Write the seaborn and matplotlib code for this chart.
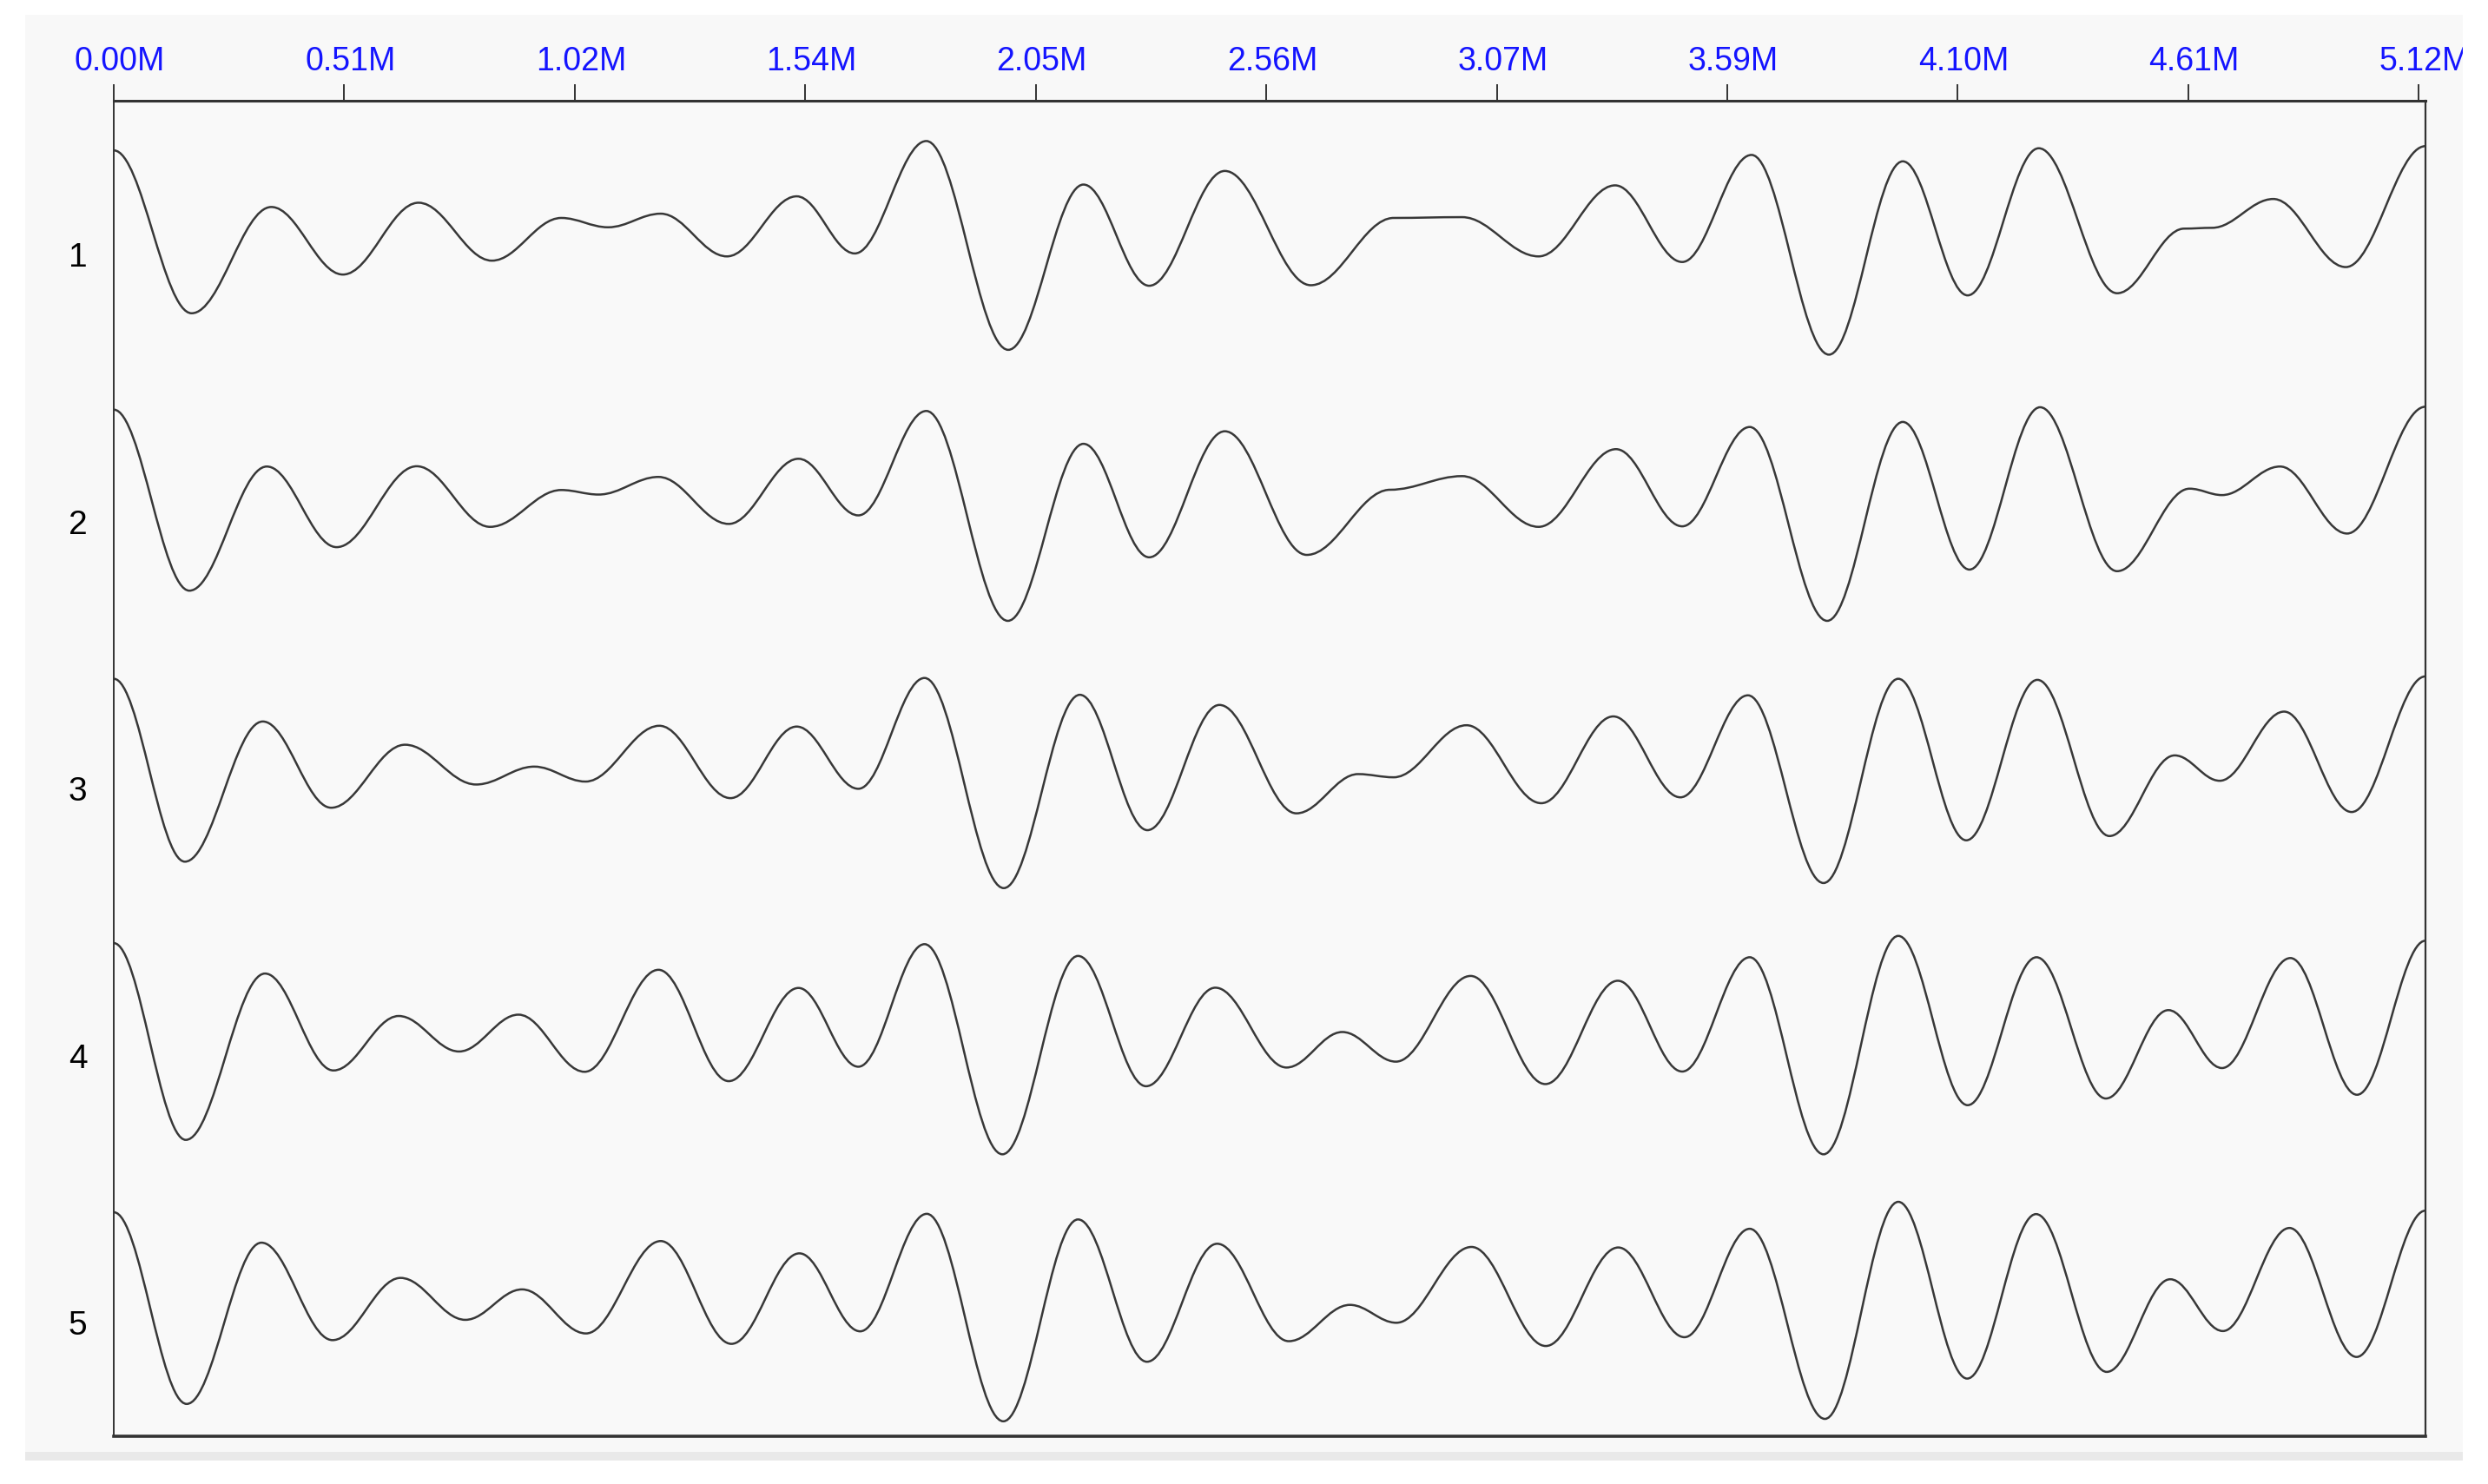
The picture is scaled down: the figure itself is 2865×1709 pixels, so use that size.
import matplotlib
matplotlib.use("Agg")
import matplotlib.pyplot as plt
import matplotlib.transforms as mtransforms
from matplotlib.path import Path
from matplotlib.patches import PathPatch, Rectangle
import seaborn as sns

# picos y valles de cada traza: posicion (M) y amplitud (en separaciones de traza, + = arriba)
trace1_x = [0.000, 0.173, 0.350, 0.509, 0.677, 0.840, 0.994, 1.098, 1.215, 1.362, 1.517, 1.646,
            1.805, 1.987, 2.154, 2.300, 2.468, 2.659, 2.843, 2.995, 3.165, 3.335, 3.484, 3.638,
            3.810, 3.974, 4.118, 4.276, 4.450, 4.599, 4.661, 4.797, 4.958, 5.135]
trace1_amp = [0.390, -0.220, 0.178, -0.075, 0.194, -0.023, 0.137, 0.102, 0.153, -0.007, 0.218, 0.004,
              0.425, -0.357, 0.262, -0.117, 0.313, -0.115, 0.137, 0.140, -0.007, 0.259, -0.028, 0.373,
              -0.375, 0.349, -0.153, 0.398, -0.145, 0.097, 0.100, 0.208, -0.047, 0.406]

trace2_x = [0.000, 0.168, 0.340, 0.495, 0.673, 0.836, 0.994, 1.077, 1.210, 1.366, 1.521, 1.654,
            1.805, 1.986, 2.154, 2.300, 2.468, 2.650, 2.835, 2.995, 3.165, 3.337, 3.484, 3.634,
            3.806, 3.974, 4.122, 4.279, 4.450, 4.611, 4.683, 4.812, 4.961, 5.135]
trace2_amp = [0.419, -0.259, 0.206, -0.096, 0.207, -0.020, 0.118, 0.101, 0.167, -0.009, 0.235, 0.023,
              0.414, -0.372, 0.291, -0.134, 0.338, -0.125, 0.119, 0.170, -0.020, 0.271, -0.018, 0.354,
              -0.372, 0.373, -0.180, 0.428, -0.186, 0.123, 0.099, 0.206, -0.045, 0.430]

trace3_x = [0.000, 0.158, 0.331, 0.483, 0.647, 0.805, 0.934, 1.048, 1.212, 1.370, 1.517, 1.654,
            1.801, 1.977, 2.146, 2.296, 2.456, 2.627, 2.764, 2.843, 3.005, 3.171, 3.331, 3.480,
            3.630, 3.798, 3.964, 4.115, 4.273, 4.433, 4.578, 4.678, 4.821, 4.971, 5.135]
trace3_amp = [0.411, -0.274, 0.251, -0.072, 0.164, 0.015, 0.082, 0.026, 0.235, -0.036, 0.232, -0.001,
              0.414, -0.373, 0.351, -0.156, 0.313, -0.093, 0.054, 0.042, 0.237, -0.055, 0.270, -0.033,
              0.349, -0.354, 0.411, -0.194, 0.407, -0.178, 0.124, 0.029, 0.288, -0.088, 0.420]

trace4_x = [0.000, 0.160, 0.336, 0.488, 0.633, 0.767, 0.899, 1.046, 1.210, 1.366, 1.521, 1.654,
            1.801, 1.974, 2.142, 2.293, 2.447, 2.605, 2.729, 2.848, 3.014, 3.180, 3.341, 3.484,
            3.634, 3.798, 3.964, 4.118, 4.271, 4.425, 4.564, 4.683, 4.835, 4.983, 5.135]
trace4_amp = [0.421, -0.316, 0.307, -0.056, 0.148, 0.015, 0.153, -0.061, 0.321, -0.096, 0.253, -0.042,
              0.417, -0.370, 0.373, -0.115, 0.254, -0.045, 0.088, -0.023, 0.298, -0.107, 0.280, -0.060,
              0.368, -0.370, 0.448, -0.186, 0.368, -0.161, 0.170, -0.047, 0.365, -0.147, 0.430]

trace5_x = [0.000, 0.162, 0.328, 0.486, 0.637, 0.781, 0.907, 1.049, 1.215, 1.372, 1.523, 1.658,
            1.806, 1.976, 2.142, 2.295, 2.451, 2.610, 2.746, 2.849, 3.016, 3.181, 3.342, 3.489,
            3.634, 3.801, 3.964, 4.117, 4.270, 4.427, 4.568, 4.685, 4.833, 4.982, 5.135]
trace5_amp = [0.413, -0.305, 0.299, -0.066, 0.167, 0.010, 0.124, -0.041, 0.305, -0.080, 0.259, -0.033,
              0.407, -0.370, 0.386, -0.147, 0.295, -0.070, 0.066, -0.001, 0.283, -0.088, 0.281, -0.055,
              0.351, -0.361, 0.452, -0.210, 0.406, -0.185, 0.162, -0.032, 0.354, -0.129, 0.419]

trace_labels = ["1", "2", "3", "4", "5"]
tick_pos = [0.0, 0.512, 1.024, 1.536, 2.048, 2.56, 3.072, 3.584, 4.096, 4.608, 5.12]
tick_labels = ["0.00M", "0.51M", "1.02M", "1.54M", "2.05M", "2.56M",
               "3.07M", "3.59M", "4.10M", "4.61M", "5.12M"]

traces = [(trace1_x, trace1_amp), (trace2_x, trace2_amp), (trace3_x, trace3_amp),
          (trace4_x, trace4_amp), (trace5_x, trace5_amp)]


def wiggle_path(xs, ys, k=0.364):
    # curvas de Bezier entre extremos con tangente horizontal en cada extremo
    verts = [(xs[0], ys[0])]
    codes = [Path.MOVETO]
    for x0, y0, x1, y1 in zip(xs[:-1], ys[:-1], xs[1:], ys[1:]):
        dx = x1 - x0
        verts += [(x0 + k * dx, y0), (x1 - k * dx, y1), (x1, y1)]
        codes += [Path.CURVE4] * 3
    return Path(verts, codes)


sns.set_style("white")
plt.rcParams['font.family'] = ['Liberation Sans', 'DejaVu Sans']

W, H = 2865, 1709
fig = plt.figure(figsize=(W / 100, H / 100), dpi=100, facecolor='white')

# panel gris de la ventana
fig.add_artist(Rectangle((29 / W, 1 - 1672 / H), (2836 - 29) / W, (1672 - 17) / H,
                         transform=fig.transFigure, facecolor='#f8f8f8', edgecolor='none', zorder=-2))
fig.add_artist(Rectangle((29 / W, 1 - 1682 / H), (2836 - 29) / W, 10 / H,
                         transform=fig.transFigure, facecolor='#e9e9e9', edgecolor='none', zorder=-2))

ax = fig.add_axes([131 / W, 55 / H, (2793 - 131) / W, (1654 - 116) / H])
ax.set_facecolor('#f9f9f9')

for i, (xs, amps) in enumerate(traces):
    ys = [(i + 1) - a for a in amps]
    ax.add_patch(PathPatch(wiggle_path(xs, ys), facecolor='none',
                           edgecolor='#383838', linewidth=1.8))

ax.set_xlim(0, 5.135)
ax.set_ylim(5.426, 0.424)

ax.set_yticks(range(1, len(trace_labels) + 1))
ax.set_yticklabels(trace_labels)
ax.set_xticks(tick_pos)
ax.set_xticklabels(tick_labels)
ax.xaxis.tick_top()

ax.tick_params(axis='x', top=True, bottom=False, direction='out', length=13.5, width=1.4,
               color='#333333', labelsize=27, labelcolor='#1414ff', pad=6)
ax.tick_params(axis='y', left=False, length=0, pad=22, labelsize=28, labelcolor='black')

offset = mtransforms.ScaledTranslation(7 / 100, 0, fig.dpi_scale_trans)
for lab in ax.get_xticklabels():
    lab.set_transform(lab.get_transform() + offset)

for side, lw in [('top', 2.2), ('bottom', 2.6), ('left', 1.4), ('right', 1.6)]:
    ax.spines[side].set_visible(True)
    ax.spines[side].set_color('#333333')
    ax.spines[side].set_linewidth(lw)

# borde derecho de la captura (corta la ultima etiqueta)
fig.add_artist(Rectangle((2836 / W, 0), 1, 1, transform=fig.transFigure,
                         facecolor='white', edgecolor='none', zorder=10))

fig.savefig('out.png', dpi=100, facecolor='white')
